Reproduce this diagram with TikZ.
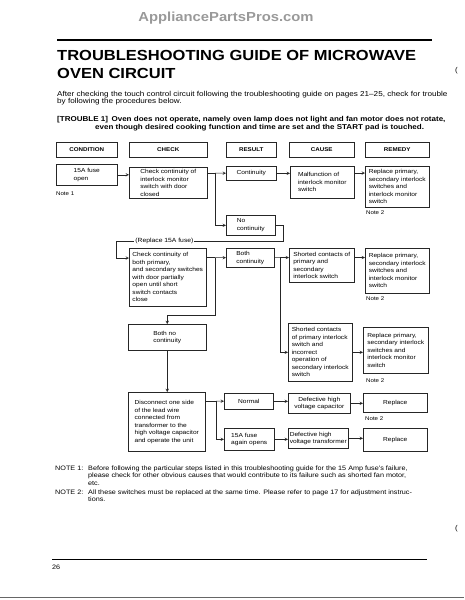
\documentclass[tikz,border=0pt]{standalone}
\usepackage{fontspec}
\setmainfont{Liberation Sans}[FakeStretch=1.13]
\begin{document}
\begin{tikzpicture}[x=1pt,y=-1pt,>=stealth,
  box/.style={draw=black!85,line width=0.5pt,anchor=north west,align=left,inner sep=0pt,font=\fontsize{5.85}{7.5}\selectfont},
  hdr/.style={box,align=center,minimum height=15pt,font=\bfseries\fontsize{5.5}{6}\selectfont},
  txt/.style={anchor=base west,inner sep=0pt,font=\fontsize{7.2}{8}\selectfont},
  notetxt/.style={txt,font=\fontsize{6.4}{8}\selectfont},
  notelbl/.style={anchor=base west,inner sep=0pt,font=\fontsize{5.4}{7}\selectfont},
  link/.style={line width=0.5pt,draw=black!85}]
\useasboundingbox (0,0) rectangle (464,600);

% page head
\node[inner sep=0pt,anchor=base,text=black!40,font=\bfseries\fontsize{13.1}{15}\selectfont] (site) at (226,21) {AppliancePartsPros.com};
\draw[line width=2pt] (57,39.5) -- (432,39.5);%top rule
\node[txt,font=\bfseries\fontsize{14.6}{17}\selectfont] (title1) at (57,60) {TROUBLESHOOTING GUIDE OF MICROWAVE};
\node[txt,font=\bfseries\fontsize{14.6}{17}\selectfont] (title2) at (57,78) {OVEN CIRCUIT};
\node[txt,font=\fontsize{7}{8}\selectfont] (mark1) at (455,72) {(};
\node[txt] (intro1) at (57,96) {After checking the touch control circuit following the troubleshooting guide on pages 21–25, check for trouble};
\node[txt] (intro2) at (57,103) {by following the procedures below.};
\node[txt,font=\bfseries\fontsize{7.1}{8}\selectfont] (trouble1) at (57,121) {[TROUBLE 1]\enspace Oven does not operate, namely oven lamp does not light and fan motor does not rotate,};
\node[txt,font=\bfseries\fontsize{7.1}{8}\selectfont] (trouble2) at (95,129) {even though desired cooking function and time are set and the START pad is touched.};

% column heads
\node[hdr,minimum width=61pt] (hcond) at (56,142) {CONDITION};
\node[hdr,minimum width=78pt] (hcheck) at (129,142) {CHECK};
\node[hdr,minimum width=50pt] (hresult) at (226,142) {RESULT};
\node[hdr,minimum width=65pt] (hcause) at (289,142) {CAUSE};
\node[hdr,minimum width=64pt] (hremedy) at (365,142) {REMEDY};

% first step
\node[box,minimum width=61pt,minimum height=21pt] (fuse) at (56,164) {15A fuse\\open};
\node[notelbl] (note1) at (56,195) {Note 1};
\node[box,minimum width=78pt,minimum height=31pt] (check1) at (129,167) {Check continuity of\\interlock monitor\\switch with door\\closed};
\node[box,minimum width=50pt,minimum height=14pt] (cont) at (226,166) {Continuity};
\node[box,minimum width=64pt,minimum height=32pt] (malf) at (290,166) {Malfunction of\\interlock monitor\\switch};
\node[box,minimum width=64pt,minimum height=41pt] (rep1) at (365,166) {Replace primary,\\secondary interlock\\switches and\\interlock monitor\\switch};
\node[notelbl] (note2a) at (366,214) {Note 2};
\node[box,minimum width=49pt,minimum height=20pt] (nocont) at (226,215) {No\\continuity};

% second step
\node[box,minimum width=77pt,minimum height=58pt] (check2) at (129,248) {Check continuity of\\both primary,\\and secondary switches\\with door partially\\open until short\\switch contacts\\close};
\node[box,minimum width=48pt,minimum height=19pt] (bcont) at (226,248) {Both\\continuity};
\node[box,minimum width=65pt,minimum height=34pt] (short1) at (289,248) {Shorted contacts of\\primary and\\secondary\\interlock switch};
\node[box,minimum width=64pt,minimum height=45pt] (rep2) at (365,248) {Replace primary,\\secondary interlock\\switches and\\interlock monitor\\switch};
\node[notelbl] (note2b) at (366,300) {Note 2};
\node[box,minimum width=64pt,minimum height=58pt] (short2) at (288,323) {Shorted contacts\\of primary interlock\\switch and\\incorrect\\operation of\\secondary interlock\\switch};
\node[box,minimum width=65pt,minimum height=46pt] (rep3) at (363,327) {Replace primary,\\secondary interlock\\switches and\\interlock monitor\\switch};
\node[notelbl] (note2c) at (366,382) {Note 2};
\node[box,minimum width=78pt,minimum height=26pt] (bnocont) at (128,324) {Both no\\continuity};

% third step
\node[box,minimum width=77pt,minimum height=59pt] (disc) at (128,392) {Disconnect one side\\of the lead wire\\connected from\\transformer to the\\high voltage capacitor\\and operate the unit};
\node[box,align=center,minimum width=49pt,minimum height=16pt] (normal) at (224,393) {Normal};
\node[box,align=center,minimum width=62pt,minimum height=20pt] (defcap) at (288,393) {Defective high\\voltage capacitor};
\node[box,align=center,minimum width=64pt,minimum height=19pt] (rep4) at (363,393) {Replace};
\node[notelbl] (note2d) at (365,420) {Note 2};
\node[box,minimum width=50pt,minimum height=22pt] (fuse2) at (224,428) {15A fuse\\again opens};
\node[box,minimum width=60pt,minimum height=20pt] (deftr) at (288,428) {Defective high\\voltage transformer};
\node[box,align=center,minimum width=64pt,minimum height=23pt] (rep5) at (363,428) {Replace};

% connectors
\coordinate (j1) at (215,173);
\coordinate (ra) at (283,241);
\coordinate (rb) at (116,258);
\coordinate (j2) at (215,257.5);
\coordinate (k2) at (215,315);
\coordinate (j3) at (280,257.5);
\coordinate (j4) at (216,401);
\draw[link,->] (fuse.east) -- (fuse.east -| check1.west);
\draw[link] (check1.east |- j1) -- (j1);
\draw[link,->] (j1) -- (cont.west);
\draw[link,->] (j1) |- (nocont.west);
\draw[link,->] (cont.east) -- (cont.east -| malf.west);
\draw[link,->] (malf.east |- j1) -- (rep1.west |- j1);
\draw[link,->] (nocont.east) -| (ra) -- (ra -| rb) node[pos=0.71,fill=white,inner sep=1pt,font=\fontsize{6}{7}\selectfont] (refuse) {(Replace 15A fuse)} |- (rb -| check2.west);
\draw[link] (check2.east |- j2) -- (j2);
\draw[link,->] (j2) -- (bcont.west);
\draw[link,->] (j2) -- (k2) -| (bnocont.north);
\draw[link] (bcont.east) -- (j3);
\draw[link,->] (j3) -- (short1.west |- j3);
\draw[link,->] (j3) |- (short2.west);
\draw[link,->] (short1.east |- j3) -- (rep2.west |- j3);
\draw[link,->] (short2.east) -- (short2.east -| rep3.west);
\draw[link,->] (bnocont.south) -- (bnocont.south |- disc.north);
\draw[link] (disc.east |- j4) -- (j4);
\draw[link,->] (j4) -- (normal.west);
\draw[link,->] (j4) |- (fuse2.west);
\draw[link,->] (normal.east) -- (normal.east -| defcap.west);
\draw[link,->] (defcap.east) -- (defcap.east -| rep4.west);
\draw[link,->] (fuse2.east) -- (fuse2.east -| deftr.west);
\draw[link,->] (deftr.east) -- (deftr.east -| rep5.west);

% notes
\node[notetxt] (n1) at (55,470) {NOTE 1:};
\node[notetxt] (n1a) at (88,470) {Before following the particular steps listed in this troubleshooting guide for the 15 Amp fuse's failure,};
\node[notetxt] (n1b) at (88,477.5) {please check for other obvious causes that would contribute to its failure such as shorted fan motor,};
\node[notetxt] (n1c) at (88,485) {etc.};
\node[notetxt] (n2) at (55,494) {NOTE 2:};
\node[notetxt] (n2a) at (88,494) {All these switches must be replaced at the same time. Please refer to page 17 for adjustment instruc-};
\node[notetxt] (n2b) at (88,501.5) {tions.};

% page foot
\node[txt,font=\fontsize{7}{8}\selectfont] (mark2) at (455,530) {(};
\draw[line width=1pt] (52,559) -- (427,559);%bottom rule
\node[notetxt] (page) at (52,569) {26};
\draw[line width=0.8pt,black!60] (0,597) -- (464,597);%scan edge
\end{tikzpicture}
\end{document}
